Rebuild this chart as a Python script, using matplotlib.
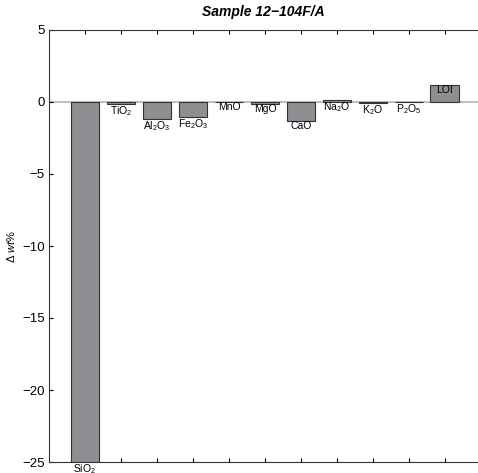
import matplotlib
matplotlib.use("Agg")
import matplotlib.pyplot as plt

categories = ["SiO$_2$", "TiO$_2$", "Al$_2$O$_3$", "Fe$_2$O$_3$", "MnO", "MgO",
              "CaO", "Na$_2$O", "K$_2$O", "P$_2$O$_5$", "LOI"]
values = [-25.0, -0.15, -1.18, -1.06, -0.03, -0.16, -1.32, 0.12, -0.05, -0.03, 1.16]
yticks = [5, 0, -5, -10, -15, -20, -25]

plt.rcParams['font.family'] = ['Liberation Sans', 'DejaVu Sans']
plt.rcParams['mathtext.fontset'] = 'custom'
plt.rcParams['mathtext.rm'] = 'Liberation Sans'
plt.rcParams['mathtext.it'] = 'Liberation Sans:italic'
plt.rcParams['mathtext.bf'] = 'Liberation Sans:bold'

fig = plt.figure(figsize=(4.78, 4.73), dpi=100)
ax = fig.add_axes([49/478, 1-462/473, (478-49)/478, (462-30)/473])

x = list(range(1, len(values) + 1))
ax.axhline(0, color='#b4b4b4', lw=1.2, zorder=1)
ax.bar(x, values, width=0.8, color='#8e8e93', edgecolor='#333333', linewidth=0.8, zorder=2)
for xi, v, lab in zip(x, values, categories):
    ax.text(xi, v, lab, ha='center', va='top', fontsize=7.5, zorder=3)

ax.set_xlim(0, 11.92)
ax.set_ylim(-25, 5)
ax.set_xticks(x)
ax.set_xticklabels([])
ax.set_yticks(yticks)
ax.set_yticklabels([f"{t}".replace('-', '\u2212') for t in yticks], fontsize=9.5)
ax.tick_params(direction='in', length=3, width=0.8, top=True, bottom=True, left=True, right=False, pad=3)
ax.spines['right'].set_visible(False)
for s in ['left', 'top', 'bottom']:
    ax.spines[s].set_linewidth(0.8)
    ax.spines[s].set_color('#333333')
ax.set_ylabel("\u0394 $\\it{wt}$%", fontsize=8, labelpad=4)
ax.set_title("Sample 12\u2212104F/A", fontsize=10, fontweight='bold', fontstyle='italic', pad=10)

fig.savefig("out.png", dpi=100)
